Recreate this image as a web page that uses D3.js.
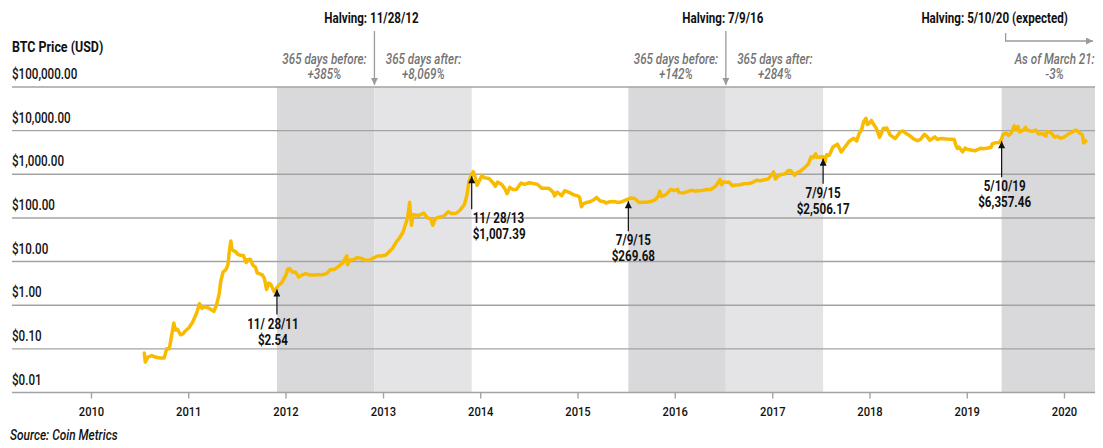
<!DOCTYPE html>
<html>
<head>
<meta charset="utf-8">
<script src="https://cdn.jsdelivr.net/npm/d3@7"></script>
<style>
  body { margin: 0; background: #fff; }
  svg text { font-family: Roboto, "Noto Sans", sans-serif; }
</style>
</head>
<body>
<svg id="chart" width="1103" height="448"></svg>
<script>
// BTC close
const priceSeries = [
  ["2010-07-18", 0.08], ["2010-07-22", 0.05], ["2010-08-01", 0.065], ["2010-08-15", 0.07], ["2010-09-01", 0.064],
  ["2010-09-15", 0.062], ["2010-10-01", 0.062], ["2010-10-10", 0.10], ["2010-10-20", 0.10], ["2010-11-06", 0.39],
  ["2010-11-12", 0.27], ["2010-11-20", 0.28], ["2010-12-01", 0.21], ["2010-12-10", 0.22], ["2010-12-20", 0.26],
  ["2011-01-01", 0.30], ["2011-01-15", 0.40], ["2011-02-01", 0.70], ["2011-02-10", 1.08], ["2011-02-20", 0.85],
  ["2011-03-01", 0.92], ["2011-03-15", 0.87], ["2011-03-28", 0.78], ["2011-04-05", 0.72], ["2011-04-15", 1.00],
  ["2011-04-25", 1.80], ["2011-05-01", 3.50], ["2011-05-10", 5.8], ["2011-05-20", 6.5], ["2011-05-28", 8.4],
  ["2011-06-03", 18.5], ["2011-06-08", 29.6], ["2011-06-12", 19.0], ["2011-06-19", 17.5], ["2011-06-26", 16.8],
  ["2011-07-05", 14.5], ["2011-07-15", 14.0], ["2011-07-25", 13.8], ["2011-08-05", 9.5], ["2011-08-10", 11.0],
  ["2011-08-20", 11.3], ["2011-08-30", 8.2], ["2011-09-08", 7.5], ["2011-09-15", 5.5], ["2011-09-25", 5.2],
  ["2011-10-05", 4.9], ["2011-10-12", 4.1], ["2011-10-20", 2.3], ["2011-10-28", 3.2], ["2011-11-05", 3.0],
  ["2011-11-18", 2.04], ["2011-11-28", 2.54], ["2011-12-05", 2.9], ["2011-12-15", 3.2], ["2011-12-25", 4.1],
  ["2012-01-01", 5.0], ["2012-01-08", 6.8], ["2012-01-15", 6.9], ["2012-01-25", 5.7], ["2012-02-05", 5.8],
  ["2012-02-18", 4.4], ["2012-03-01", 4.9], ["2012-03-15", 5.3], ["2012-04-01", 4.9], ["2012-04-15", 4.9],
  ["2012-05-01", 5.0], ["2012-05-15", 5.0], ["2012-06-01", 5.3], ["2012-06-15", 6.5], ["2012-07-01", 6.7],
  ["2012-07-15", 7.6], ["2012-08-01", 9.3], ["2012-08-16", 13.5], ["2012-08-19", 8.5], ["2012-08-28", 10.8],
  ["2012-09-10", 11.0], ["2012-09-25", 12.3], ["2012-10-10", 11.8], ["2012-10-25", 10.7], ["2012-11-10", 10.9],
  ["2012-11-28", 12.4], ["2012-12-10", 13.4], ["2012-12-25", 13.4],
  ["2013-01-10", 14.2], ["2013-01-25", 17.5], ["2013-02-05", 20.5], ["2013-02-20", 29.5], ["2013-03-01", 34],
  ["2013-03-15", 47], ["2013-03-25", 72], ["2013-04-02", 105], ["2013-04-09", 230], ["2013-04-12", 125],
  ["2013-04-16", 68], ["2013-04-22", 120], ["2013-05-01", 116], ["2013-05-15", 115], ["2013-06-01", 129],
  ["2013-06-15", 100], ["2013-06-27", 95], ["2013-07-05", 68], ["2013-07-15", 98], ["2013-08-01", 105],
  ["2013-08-15", 110], ["2013-09-01", 138], ["2013-09-15", 126], ["2013-10-01", 128], ["2013-10-15", 150],
  ["2013-11-01", 205], ["2013-11-10", 330], ["2013-11-18", 700], ["2013-11-28", 1007], ["2013-12-04", 1150],
  ["2013-12-10", 900], ["2013-12-18", 560], ["2013-12-25", 680],
  ["2014-01-05", 930], ["2014-01-15", 830], ["2014-02-01", 800], ["2014-02-15", 650], ["2014-02-25", 530],
  ["2014-03-05", 665], ["2014-03-20", 590], ["2014-04-01", 470], ["2014-04-10", 360], ["2014-04-20", 500],
  ["2014-05-01", 450], ["2014-05-15", 450], ["2014-06-01", 630], ["2014-06-15", 590], ["2014-07-01", 640],
  ["2014-07-15", 620], ["2014-08-01", 590], ["2014-08-18", 480], ["2014-09-01", 480], ["2014-09-15", 470],
  ["2014-10-01", 380], ["2014-10-05", 320], ["2014-10-15", 390], ["2014-11-01", 325], ["2014-11-12", 420],
  ["2014-12-01", 380], ["2014-12-15", 340], ["2014-12-31", 320],
  ["2015-01-07", 295], ["2015-01-14", 180], ["2015-01-20", 210], ["2015-02-01", 225], ["2015-02-15", 235],
  ["2015-03-01", 260], ["2015-03-12", 295], ["2015-03-25", 245], ["2015-04-10", 235], ["2015-04-15", 220],
  ["2015-05-01", 235], ["2015-05-15", 237], ["2015-06-01", 225], ["2015-06-15", 235], ["2015-07-01", 258],
  ["2015-07-09", 270], ["2015-07-15", 285], ["2015-08-01", 280], ["2015-08-19", 225], ["2015-09-01", 228],
  ["2015-09-15", 230], ["2015-10-01", 237], ["2015-10-15", 255], ["2015-10-28", 305], ["2015-11-04", 410],
  ["2015-11-11", 310], ["2015-11-20", 325], ["2015-12-01", 360], ["2015-12-15", 450], ["2015-12-28", 420],
  ["2016-01-10", 450], ["2016-01-15", 380], ["2016-02-01", 375], ["2016-02-15", 400], ["2016-03-01", 430],
  ["2016-03-15", 415], ["2016-04-01", 417], ["2016-04-15", 430], ["2016-05-01", 450], ["2016-05-15", 455],
  ["2016-06-01", 535], ["2016-06-17", 760], ["2016-06-23", 580], ["2016-07-01", 675], ["2016-07-09", 650],
  ["2016-07-20", 665], ["2016-08-03", 545], ["2016-08-15", 570], ["2016-09-01", 575], ["2016-09-15", 608],
  ["2016-10-01", 615], ["2016-10-15", 640], ["2016-11-01", 730], ["2016-11-15", 710], ["2016-12-01", 750],
  ["2016-12-15", 780], ["2016-12-28", 975],
  ["2017-01-04", 1130], ["2017-01-11", 780], ["2017-01-20", 895], ["2017-02-01", 990], ["2017-02-15", 1010],
  ["2017-03-01", 1220], ["2017-03-10", 1200], ["2017-03-24", 940], ["2017-04-01", 1080], ["2017-04-15", 1180],
  ["2017-05-01", 1420], ["2017-05-15", 1750], ["2017-05-25", 2500], ["2017-06-01", 2400], ["2017-06-11", 2950],
  ["2017-06-15", 2450], ["2017-07-01", 2500], ["2017-07-09", 2506], ["2017-07-16", 1930], ["2017-07-22", 2800],
  ["2017-08-01", 2720], ["2017-08-15", 4200], ["2017-09-01", 4900], ["2017-09-15", 3250], ["2017-10-01", 4400],
  ["2017-10-15", 5700], ["2017-11-01", 6700], ["2017-11-12", 5800], ["2017-11-20", 8200], ["2017-12-01", 10800],
  ["2017-12-08", 16000], ["2017-12-17", 19200], ["2017-12-22", 13800], ["2017-12-28", 14500],
  ["2018-01-06", 17100], ["2018-01-15", 13800], ["2018-01-25", 11200], ["2018-02-06", 7000], ["2018-02-20", 11200],
  ["2018-03-05", 11500], ["2018-03-18", 7900], ["2018-04-01", 6900], ["2018-04-06", 6600], ["2018-04-25", 9500],
  ["2018-05-05", 9800], ["2018-05-15", 8700], ["2018-06-01", 7500], ["2018-06-15", 6400], ["2018-06-29", 5900],
  ["2018-07-10", 6350], ["2018-07-24", 8200], ["2018-08-01", 7600], ["2018-08-14", 6000], ["2018-09-01", 7200],
  ["2018-09-11", 6300], ["2018-09-20", 6500], ["2018-10-01", 6600], ["2018-10-15", 6400], ["2018-11-01", 6350],
  ["2018-11-13", 6300], ["2018-11-20", 4500], ["2018-11-25", 3900], ["2018-12-01", 4200], ["2018-12-15", 3250],
  ["2018-12-24", 4000], ["2018-12-31", 3750],
  ["2019-01-10", 3650], ["2019-01-28", 3450], ["2019-02-08", 3650], ["2019-02-20", 3950], ["2019-03-01", 3850],
  ["2019-03-15", 3950], ["2019-04-01", 4150], ["2019-04-05", 5000], ["2019-04-20", 5300], ["2019-05-01", 5350],
  ["2019-05-10", 6357], ["2019-05-15", 8200], ["2019-05-28", 8700], ["2019-06-05", 7700], ["2019-06-15", 8800],
  ["2019-06-26", 12900], ["2019-07-02", 10600], ["2019-07-10", 12500], ["2019-07-17", 9400], ["2019-08-01", 10400],
  ["2019-08-07", 11900], ["2019-08-15", 10300], ["2019-09-01", 9600], ["2019-09-15", 10300], ["2019-09-25", 8400],
  ["2019-10-10", 8600], ["2019-10-23", 7500], ["2019-10-26", 9500], ["2019-11-05", 9300], ["2019-11-15", 8500],
  ["2019-11-25", 7100], ["2019-12-05", 7400], ["2019-12-17", 6650], ["2019-12-31", 7200],
  ["2020-01-10", 7900], ["2020-01-20", 8700], ["2020-02-01", 9400], ["2020-02-13", 10300], ["2020-02-20", 9600],
  ["2020-03-01", 8600], ["2020-03-08", 8000], ["2020-03-13", 5200], ["2020-03-21", 5800]
];

const yTicks = [0.01, 0.1, 1, 10, 100, 1000, 10000, 100000];
const yTickLabels = ["$0.01", "$0.10", "$1.00", "$10.00", "$100.00", "$1,000.00", "$10,000.00", "$100,000.00"];
const yearTicks = [2010, 2011, 2012, 2013, 2014, 2015, 2016, 2017, 2018, 2019, 2020];

// 365 days before / after each halving
const bands = [
  ["2011-11-28", "2012-11-28", "before"],
  ["2012-11-28", "2013-11-28", "after"],
  ["2015-07-09", "2016-07-09", "before"],
  ["2016-07-09", "2017-07-09", "after"],
  ["2019-05-10", "2020-05-10", "before"]
];

const halvings = [
  { date: "2012-11-28", title: "Halving: 11/28/12", before: ["365 days before:", "+385%"], after: ["365 days after:", "+8,069%"] },
  { date: "2016-07-09", title: "Halving: 7/9/16", before: ["365 days before:", "+142%"], after: ["365 days after:", "+284%"] }
];
const expectedHalving = { title: "Halving: 5/10/20 (expected)", note: ["As of March 21:", "-3%"] };

const notes = [
  { date: "2011-11-28", value: 2.54, lines: ["11/ 28/11", "$2.54"] },
  { date: "2013-11-28", value: 1007.39, lines: ["11/ 28/13", "$1,007.39"] },
  { date: "2015-07-09", value: 269.68, lines: ["7/9/15", "$269.68"] },
  { date: "2017-07-09", value: 2506.17, lines: ["7/9/15", "$2,506.17"] },
  { date: "2019-05-10", value: 6357.46, lines: ["5/10/19", "$6,357.46"] }
];
// label placement per note: offset of first baseline below point, x shift, anchor
const noteLayout = [
  { dy: 41, dx: -4, anchor: "middle" },
  { dy: 49, dx: 1, anchor: "start" },
  { dy: 46, dx: 5, anchor: "middle" },
  { dy: 41, dx: 0, anchor: "middle" },
  { dy: 52, dx: 3, anchor: "middle" }
];

const parse = d3.utcParse("%Y-%m-%d");
const svg = d3.select("#chart");
const plotLeft = 12, plotRight = 1095, plotTop = 87, plotBottom = 392.5;
const squeeze = 0.83; // the original face is a condensed grotesque

const x = d3.scaleUtc()
  .domain([Date.UTC(2010, 0, 1), Date.UTC(2020, 0, 1)])
  .range([91.5, 1064.5]);
const y = d3.scaleLog().domain([0.01, 100000]).range([plotBottom, plotTop]);

function addText(parent, px, py, str, opts = {}) {
  return parent.append("text")
    .attr("transform", `translate(${px},${py}) scale(${opts.sx ?? squeeze},1)`)
    .attr("text-anchor", opts.anchor || "start")
    .attr("font-size", opts.size || 14)
    .attr("font-weight", opts.weight || 500)
    .attr("font-style", opts.style || "normal")
    .attr("fill", opts.fill || "#111")
    .text(str);
}

const defs = svg.append("defs");
defs.append("clipPath").attr("id", "plot")
  .append("rect").attr("x", plotLeft).attr("y", plotTop)
  .attr("width", plotRight - plotLeft).attr("height", plotBottom - plotTop);

function marker(id, color) {
  defs.append("marker").attr("id", id)
    .attr("viewBox", "0 0 10 10").attr("refX", 10).attr("refY", 5)
    .attr("markerWidth", 8).attr("markerHeight", 7).attr("markerUnits", "userSpaceOnUse")
    .attr("orient", "auto")
    .append("path").attr("d", "M0,0L10,5L0,10z").attr("fill", color);
}
marker("arrowGray", "#9a9a9a");
marker("arrowBlack", "#111");

// shaded bands
svg.append("g").attr("clip-path", "url(#plot)")
  .selectAll("rect").data(bands).join("rect")
  .attr("x", (d) => x(parse(d[0])))
  .attr("width", (d) => x(parse(d[1])) - x(parse(d[0])))
  .attr("y", plotTop).attr("height", plotBottom - plotTop)
  .attr("fill", (d) => d[2] === "before" ? "#d9d9db" : "#e4e4e6");

// gridlines + labels
const grid = svg.append("g");
grid.selectAll("line").data(yTicks).join("line")
  .attr("x1", plotLeft).attr("x2", plotRight)
  .attr("y1", (d) => y(d)).attr("y2", (d) => y(d))
  .attr("stroke", "#a3a3a3").attr("stroke-width", 1.4);
yTicks.forEach((d, i) => addText(grid, plotLeft, y(d) - 8, yTickLabels[i]));

addText(svg, plotLeft, 52, "BTC Price (USD)", { size: 15, weight: "bold" });

// year axis
const xAxis = svg.append("g");
xAxis.selectAll("line").data(yearTicks).join("line")
  .attr("x1", (d) => x(Date.UTC(d, 0, 1))).attr("x2", (d) => x(Date.UTC(d, 0, 1)))
  .attr("y1", plotBottom).attr("y2", plotBottom + 6)
  .attr("stroke", "#a3a3a3").attr("stroke-width", 1.4);
yearTicks.forEach((d) => addText(xAxis, x(Date.UTC(d, 0, 1)), 416, d, { anchor: "middle", size: 13.5 }));

// price line
const line = d3.line()
  .x((d) => x(parse(d[0])))
  .y((d) => y(d[1]));
svg.append("path").datum(priceSeries)
  .attr("d", line)
  .attr("fill", "none").attr("stroke", "#f8bb00").attr("stroke-width", 3.5)
  .attr("stroke-linejoin", "round").attr("stroke-linecap", "round");

// halving callouts
const halvingG = svg.append("g");
const italicGray = { anchor: "middle", style: "italic", fill: "#737373" };
halvings.forEach((h) => {
  const hx = x(parse(h.date));
  addText(halvingG, hx - 3, 23, h.title, { anchor: "middle", weight: "bold" });
  halvingG.append("line").attr("x1", hx).attr("x2", hx).attr("y1", 31).attr("y2", 85)
    .attr("stroke", "#9a9a9a").attr("stroke-width", 1.3).attr("marker-end", "url(#arrowGray)");
  [[h.before, hx - 50], [h.after, hx + 49]].forEach(([lines, cx]) => {
    lines.forEach((t, i) => addText(halvingG, cx, 64 + i * 15, t, italicGray));
  });
});

// expected halving, off the right edge
const ex = x(parse(bands[4][0]));
addText(halvingG, ex - 7, 23, expectedHalving.title, { anchor: "middle", weight: "bold" });
halvingG.append("path").attr("d", `M${ex + 4},33V41H${plotRight - 2}`)
  .attr("fill", "none").attr("stroke", "#9a9a9a").attr("stroke-width", 1.3).attr("marker-end", "url(#arrowGray)");
expectedHalving.note.forEach((t, i) => addText(halvingG, ex + 53, 64 + i * 15, t, italicGray));

// point annotations
const noteG = svg.append("g");
notes.forEach((n, i) => {
  const px = x(parse(n.date));
  const py = y(n.value);
  const lay = noteLayout[i];
  noteG.append("line").attr("x1", px).attr("x2", px)
    .attr("y1", py + lay.dy - 14).attr("y2", py + 2)
    .attr("stroke", "#111").attr("stroke-width", 1.2).attr("marker-end", "url(#arrowBlack)");
  n.lines.forEach((t, j) => {
    addText(noteG, px + lay.dx, py + lay.dy + j * 16, t, { anchor: lay.anchor, weight: "bold" });
  });
});

addText(svg, 10, 440, "Source: Coin Metrics", { style: "italic", sx: 0.85 });
</script>
</body>
</html>
